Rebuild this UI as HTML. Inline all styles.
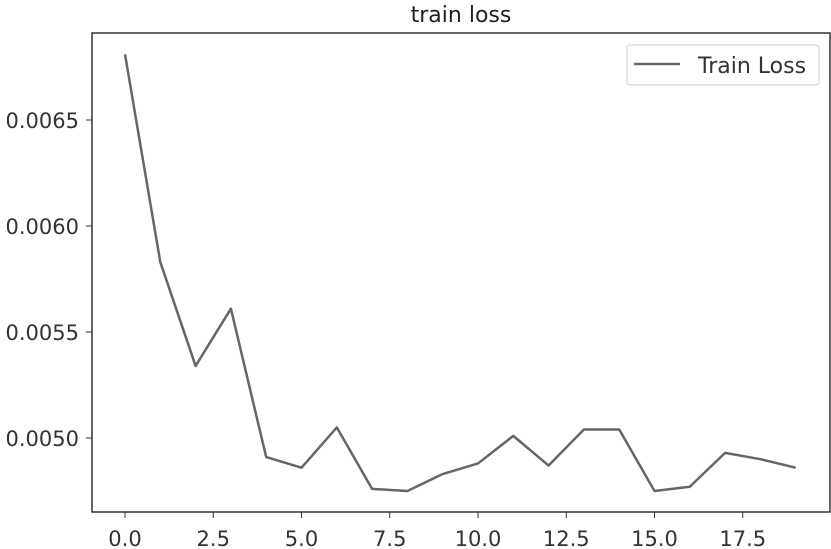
<!DOCTYPE html>
<html><head><meta charset="utf-8"><style>
html,body{margin:0;padding:0;background:#fff;}
svg{display:block;font-family:"DejaVu Sans","Liberation Sans",sans-serif;}
</style></head><body>
<svg id="chart" width="831" height="549" viewBox="0 0 831 549">
<text x="461" y="22" text-anchor="middle" font-size="22" fill="#222">train loss</text>
<g id="axes"></g>
<g id="series"></g>
<g>
<rect x="627" y="45" width="192" height="40" rx="3" fill="#fff" stroke="#ccc"/>
<line x1="634" y1="64" x2="680" y2="64" stroke="#666" stroke-width="2.5"/>
<text x="698" y="73" font-size="22" fill="#333">Train Loss</text>
</g>
<rect x="92" y="33" width="738" height="479" fill="none" stroke="#333" stroke-width="1.5"/>
</svg>
<script>
const epochs=[0,1,2,3,4,5,6,7,8,9,10,11,12,13,14,15,16,17,18,19];
const trainLoss=[0.00681,0.00583,0.00534,0.00561,0.00491,0.00486,0.00505,0.00476,0.00475,0.00483,0.00488,0.00501,0.00487,0.00504,0.00504,0.00475,0.00477,0.00493,0.00490,0.00486];
const xTicks=[0,2.5,5,7.5,10,12.5,15,17.5];
const xTickLabels=["0.0","2.5","5.0","7.5","10.0","12.5","15.0","17.5"];
const yTicks=[0.0050,0.0055,0.0060,0.0065];
const yTickLabels=["0.0050","0.0055","0.0060","0.0065"];
const NS="http://www.w3.org/2000/svg";
function xs(v){return 125+v*35.3;}
function ys(v){return 438-(v-0.005)/0.0005*106;}
const axes=document.getElementById('axes');
xTicks.forEach((t,i)=>{
  const l=document.createElementNS(NS,'line');
  l.setAttribute('x1',xs(t));l.setAttribute('x2',xs(t));l.setAttribute('y1',512);l.setAttribute('y2',518);
  l.setAttribute('stroke','#333');
  
  
  axes.appendChild(l);
  const tx=document.createElementNS(NS,'text');
  tx.setAttribute('x',xs(t));tx.setAttribute('y',546);tx.setAttribute('text-anchor','middle');
  tx.setAttribute('font-size','21');tx.setAttribute('fill','#333');
  tx.textContent=xTickLabels[i];
  
  
  axes.appendChild(tx);
});
yTicks.forEach((t,i)=>{
  const l=document.createElementNS(NS,'line');
  l.setAttribute('x1',86);l.setAttribute('x2',92);l.setAttribute('y1',ys(t));l.setAttribute('y2',ys(t));
  l.setAttribute('stroke','#333');
  
  
  axes.appendChild(l);
  const tx=document.createElementNS(NS,'text');
  tx.setAttribute('x',79);tx.setAttribute('y',ys(t)+8);tx.setAttribute('text-anchor','end');
  tx.setAttribute('font-size','21');tx.setAttribute('fill','#333');
  tx.textContent=yTickLabels[i];
  
  
  axes.appendChild(tx);
});
const p=document.createElementNS(NS,'polyline');
p.setAttribute('points',epochs.map((e,i)=>xs(e)+','+ys(trainLoss[i])).join(' '));
p.setAttribute('fill','none');p.setAttribute('stroke','#666');p.setAttribute('stroke-width','2.5');
p.setAttribute('stroke-linejoin','round');


document.getElementById('series').appendChild(p);
</script>
</body></html>
